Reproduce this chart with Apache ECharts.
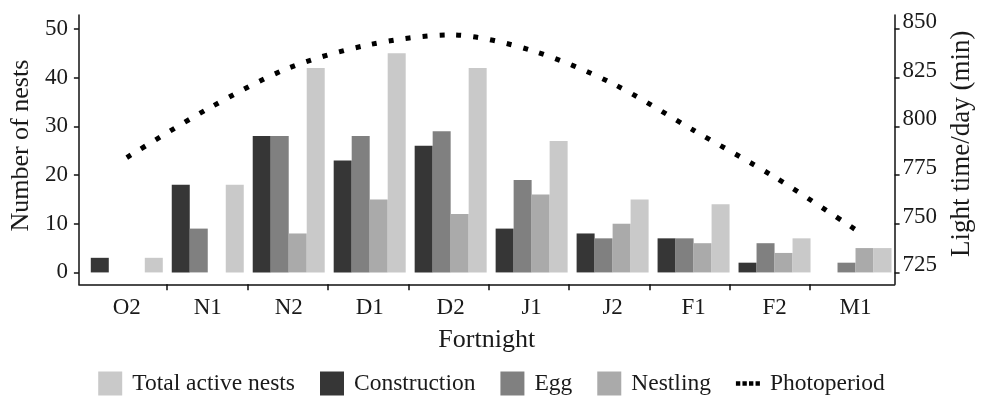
<!DOCTYPE html>
<html>
<head>
<meta charset="utf-8">
<script src="https://cdn.jsdelivr.net/npm/echarts@6/dist/echarts.min.js"></script>
<style>
html,body{margin:0;padding:0;background:#fff;}
#chart{width:983px;height:396px;}
</style>
</head>
<body>
<div id="chart"></div>
<script>
const categories = ['O2','N1','N2','D1','D2','J1','J2','F1','F2','M1'];
const construction = [3,18,28,23,26,9,8,7,2,0];
const egg = [0,9,28,28,29,19,7,7,6,2];
const nestling = [0,0,8,15,12,16,10,6,4,5];
const total = [3,18,42,45,42,27,15,14,7,5];
const photoperiod = [784,809,830,842,847,839,822,798,774,747];
const nestTicks = [0,10,20,30,40,50];
const lightTicks = [725,750,775,800,825,850];
const boundaryTicks = [1,2,3,4,5,6,7,8,9];

const FONT = 'Liberation Serif';
const TXT = '#1a1a1a';
const LINE = '#111';
const NEST_MIN = -2.44, NEST_MAX = 52.87;
const LIGHT_MIN = 718.9, LIGHT_MAX = 857.2;

const chart = echarts.init(document.getElementById('chart'), null, {renderer:'canvas'});

const barBase = {type:'bar', xAxisIndex:0, yAxisIndex:0, barWidth:18, barGap:'0%'};
const dotsIcon = 'path://M0,0h4v4h-4z M6,0h4v4h-4z M12,0h4v4h-4z M18,0h4v4h-4z';

chart.setOption({
  animation:false,
  backgroundColor:'#fff',
  textStyle:{fontFamily:FONT, color:TXT},
  grid:[
    {left:86.3, right:87, top:15, bottom:111.7},
    {left:78.3, right:83, top:15, bottom:111.7}
  ],
  legend:{
    left:'center', top:366.5, itemWidth:24, itemHeight:24, itemGap:25,
    symbolKeepAspect:true,
    textStyle:{fontFamily:FONT, fontSize:23.5, color:TXT, padding:[0,0,0,5]},
    data:[
      {name:'Total active nests', icon:'rect'},
      {name:'Construction', icon:'rect'},
      {name:'Egg', icon:'rect'},
      {name:'Nestling', icon:'rect'},
      {name:'Photoperiod', icon:dotsIcon, itemStyle:{color:'#000'}}
    ]
  },
  xAxis:[
    {type:'category', gridIndex:0, data:categories,
     axisLine:{show:false, onZero:false}, axisTick:{show:false}, splitLine:{show:false},
     axisLabel:{fontFamily:FONT, fontSize:23, color:TXT, margin:12}},
    {type:'value', gridIndex:1, min:-0.0988, max:10.05,
     axisLine:{show:true, onZero:false, lineStyle:{color:LINE, width:1.5}},
     axisTick:{show:true, inside:false, length:6, customValues:boundaryTicks, lineStyle:{color:LINE, width:1.5}},
     axisLabel:{show:false}, splitLine:{show:false},
     name:'Fortnight', nameLocation:'middle', nameGap:43,
     nameTextStyle:{fontFamily:FONT, fontSize:26, color:TXT}}
  ],
  yAxis:[
    {type:'value', gridIndex:0, min:NEST_MIN, max:NEST_MAX, show:false, axisLine:{onZero:false}},
    {type:'value', gridIndex:0, min:LIGHT_MIN, max:LIGHT_MAX, show:false, position:'right', axisLine:{onZero:false}},
    {type:'value', gridIndex:1, min:NEST_MIN, max:NEST_MAX, position:'left',
     axisLine:{show:true, onZero:false, lineStyle:{color:LINE, width:1.5}},
     axisTick:{show:true, length:5, customValues:nestTicks, lineStyle:{color:LINE, width:1.5}},
     axisLabel:{fontFamily:FONT, fontSize:23, color:TXT, margin:11, customValues:nestTicks},
     splitLine:{show:false},
     name:'Number of nests', nameLocation:'middle', nameGap:39, nameRotate:90,
     nameTextStyle:{fontFamily:FONT, fontSize:26, color:TXT, padding:[0,0,0,8]}},
    {type:'value', gridIndex:1, min:LIGHT_MIN, max:LIGHT_MAX, position:'right',
     axisLine:{show:true, onZero:false, lineStyle:{color:LINE, width:1.5}},
     axisTick:{show:true, length:5, customValues:lightTicks, lineStyle:{color:LINE, width:1.5}},
     axisLabel:{fontFamily:FONT, fontSize:23, color:TXT, margin:8, customValues:lightTicks,
                verticalAlign:'bottom', lineHeight:14},
     splitLine:{show:false},
     name:'Light time/day (min)', nameLocation:'middle', nameGap:47, nameRotate:90,
     nameTextStyle:{fontFamily:FONT, fontSize:27, color:TXT, padding:[0,0,0,12]}}
  ],
  series:[
    Object.assign({}, barBase, {name:'Construction', data:construction, itemStyle:{color:'#363636'}}),
    Object.assign({}, barBase, {name:'Egg', data:egg, itemStyle:{color:'#808080'}}),
    Object.assign({}, barBase, {name:'Nestling', data:nestling, itemStyle:{color:'#aaaaaa'}}),
    Object.assign({}, barBase, {name:'Total active nests', data:total, itemStyle:{color:'#c9c9c9'}}),
    {type:'line', name:'Photoperiod', xAxisIndex:0, yAxisIndex:1, data:photoperiod,
     smooth:0.3, symbol:'none', z:5,
     itemStyle:{color:'#000'},
     lineStyle:{color:'#000', width:5, type:[5,12], cap:'butt'}}
  ]
});
</script>
</body>
</html>
